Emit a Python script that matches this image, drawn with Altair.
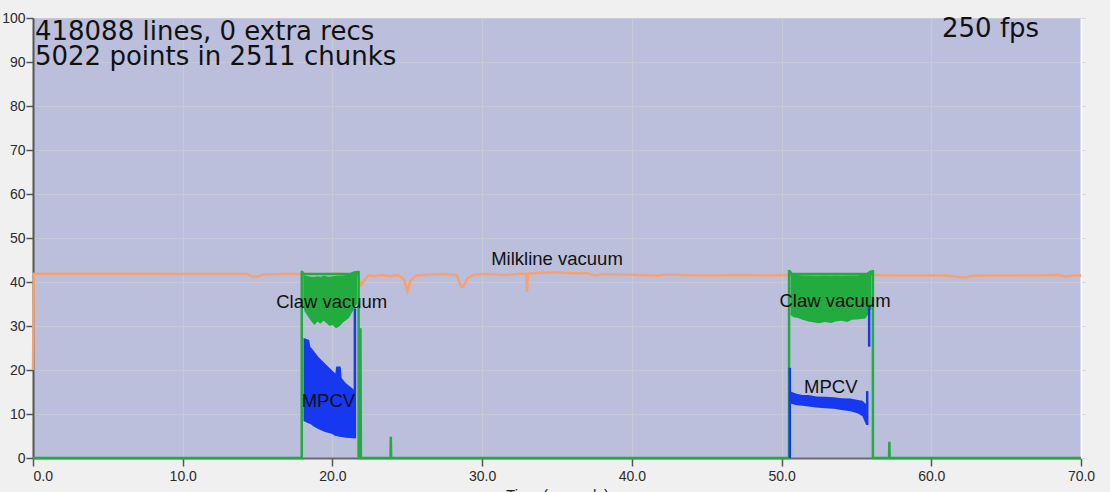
import altair as alt
import pandas as pd

# ---------------- data ----------------
x_ticks = [0, 10, 20, 30, 40, 50, 60, 70]
y_ticks = [0, 10, 20, 30, 40, 50, 60, 70, 80, 90, 100]

# Milkline vacuum (orange line)
milk_t = [0, 0.02, 0.05, 2, 6, 10, 14.3, 14.6, 15.0, 15.4, 17, 18.5, 19.5, 20.5, 21.3, 21.7, 21.9, 22.1,
          22.4, 22.8, 23.3, 23.8, 24.4, 24.8, 25.0, 25.2, 25.6, 26.5, 27.5, 28.3, 28.6, 28.75, 29.0, 29.5,
          30.5, 31.5, 32.6, 32.95, 33.0, 33.05, 34.0, 35.0, 36.0, 37.0, 37.6, 38.1, 39, 40.5, 41.8, 42.3,
          43.5, 45, 47, 49, 50.5, 53, 56, 57.5, 59, 61, 62.3, 62.7, 64, 66, 68.5, 69.0, 69.5, 70]
milk_v = [20, 27, 41.9, 41.9, 41.9, 41.8, 41.8, 41.3, 41.2, 41.7, 41.8, 41.8, 41.7, 41.9, 41.6, 41.0, 39.3, 40.2,
          41.5, 41.3, 41.6, 41.3, 41.6, 40.5, 37.8, 40.2, 41.5, 41.7, 41.8, 41.6, 39.0, 38.9, 40.8, 41.7,
          41.8, 41.6, 41.9, 41.9, 37.8, 41.9, 42.1, 42.2, 42.0, 42.0, 41.5, 41.8, 41.7, 41.6, 41.4, 41.7,
          41.6, 41.5, 41.6, 41.5, 41.6, 41.5, 41.6, 41.5, 41.5, 41.5, 41.0, 41.4, 41.5, 41.5, 41.6, 41.2, 41.5, 41.5]

# Claw vacuum (green line, baseline and edges)
claw_t = [0, 17.95, 17.95, 18.05, 21.65, 21.75, 21.75, 21.85, 21.87, 21.9, 23.88, 23.9, 23.92,
          50.5, 50.5, 50.6, 56.0, 56.1, 56.1, 57.18, 57.2, 57.22, 70]
claw_v = [0, 0, 42.5, 41.8, 41.8, 42.5, 0, 0, 29.5, 0, 0, 4.8, 0,
          0, 42.7, 41.8, 41.8, 42.7, 0, 0, 3.7, 0, 0]

# Claw vacuum envelope while milking (two episodes)
claw1_t = [18.05, 18.15, 18.4, 18.6, 18.8, 19.0, 19.2, 19.4, 19.6, 19.8, 20.0, 20.25, 20.5, 20.7, 20.9,
           21.1, 21.3, 21.5, 21.65]
claw1_lo = [34.5, 33.3, 32.0, 31.0, 30.2, 31.0, 30.5, 31.2, 30.7, 30.0, 30.2, 29.5, 30.0, 30.8, 31.3,
            31.8, 33.0, 34.4, 35.0]
claw1_hi = [42.2, 41.5, 41.3, 41.2, 41.2, 41.3, 41.2, 41.4, 41.3, 41.2, 41.3, 41.4, 41.5, 41.5, 41.6,
            41.8, 42.3, 42.5, 42.5]
claw2_t = [50.6, 50.8, 51.1, 51.4, 51.8, 52.2, 52.5, 52.9, 53.3, 53.6, 54.0, 54.4, 54.7, 55.0, 55.3,
           55.6, 55.85, 56.0]
claw2_lo = [32.5, 32.0, 31.8, 31.4, 31.0, 30.8, 30.6, 30.9, 30.7, 31.0, 31.2, 30.9, 31.4, 31.5, 31.6,
            31.7, 33.0, 34.0]
claw2_hi = [42.7, 41.7, 41.6, 41.5, 41.5, 41.4, 41.4, 41.5, 41.4, 41.5, 41.4, 41.5, 41.5, 41.5, 41.6,
            41.8, 42.5, 42.7]

# MPCV envelope (blue)
mpcv1_t = [18.07, 18.45, 18.52, 18.72, 19.05, 19.5, 19.95, 20.2, 20.25, 20.55, 20.62, 20.9, 21.35, 21.55]
mpcv1_hi = [27.3, 26.8, 25.3, 24.5, 23.0, 21.5, 20.0, 19.2, 20.8, 20.8, 18.1, 17.0, 15.8, 15.0]
mpcv1_lo = [8.4, 7.8, 7.8, 7.2, 6.6, 5.9, 5.5, 5.0, 5.0, 4.8, 4.8, 4.6, 4.5, 4.5]
mpcv2_t = [50.6, 51.0, 51.4, 51.8, 52.3, 52.9, 53.5, 54.0, 54.6, 55.1, 55.4, 55.6, 55.7]
mpcv2_hi = [15.1, 14.6, 14.3, 14.3, 14.0, 13.9, 13.8, 13.6, 13.5, 13.2, 13.0, 12.4, 12.2]
mpcv2_lo = [12.4, 12.0, 11.9, 11.7, 11.5, 11.3, 11.2, 10.9, 10.6, 10.1, 9.5, 7.9, 7.5]

# MPCV vertical spikes
spike_t = [21.5, 50.55, 55.72, 55.85]
spike_lo = [4.5, 0, 7.5, 25.3]
spike_hi = [34.0, 20.5, 15.2, 34.8]

# Series labels
lbl_text = ["Milkline vacuum", "Claw vacuum", "MPCV", "Claw vacuum", "MPCV"]
lbl_t = [35.0, 19.95, 19.73, 53.57, 53.29]
lbl_v = [43.9, 34.0, 11.65, 34.4, 14.7]

# Header annotations
hdr_text = ["418088 lines, 0 extra recs", "5022 points in 2511 chunks", "250 fps"]
hdr_t = [0.13, 0.13, 67.2]
hdr_v = [95.0, 89.3, 95.6]
hdr_side = ["left", "left", "right"]

# ---------------- frames ----------------
milk_df = pd.DataFrame({"t": milk_t, "v": milk_v, "i": range(len(milk_t))})
claw_df = pd.DataFrame({"t": claw_t, "v": claw_v, "i": range(len(claw_t))})
claw_band = pd.concat([
    pd.DataFrame({"t": claw1_t, "lo": claw1_lo, "hi": claw1_hi, "ep": 1}),
    pd.DataFrame({"t": claw2_t, "lo": claw2_lo, "hi": claw2_hi, "ep": 2}),
])
mpcv_band = pd.concat([
    pd.DataFrame({"t": mpcv1_t, "lo": mpcv1_lo, "hi": mpcv1_hi, "ep": 1}),
    pd.DataFrame({"t": mpcv2_t, "lo": mpcv2_lo, "hi": mpcv2_hi, "ep": 2}),
])
spike_df = pd.DataFrame({"t": spike_t, "lo": spike_lo, "hi": spike_hi})
lbl_df = pd.DataFrame({"text": lbl_text, "t": lbl_t, "v": lbl_v})
hdr_df = pd.DataFrame({"text": hdr_text, "t": hdr_t, "v": hdr_v, "side": hdr_side})

ORANGE = "#f5a272"
GREEN = "#22ab3e"
BLUE = "#1538f0"
GRID = "#c7c9d8"

xs = alt.Scale(domain=[0, 70], nice=False, zero=False)
ys = alt.Scale(domain=[0, 100], nice=False)

x_axis = alt.Axis(
    values=x_ticks, format=".1f", labelFont="Liberation Sans", labelFontSize=14,
    labelColor="#2b2b2b", labelFlush=False,
    labelAlign={"condition": {"test": "datum.value == 0", "value": "left"}, "value": "center"},
    labelPadding=3, tickSize=8, tickColor="#555555", tickWidth=1.5,
    domainColor="#6a6a6a", domainWidth=2, grid=True, gridColor=GRID, gridWidth=1,
    title="Time (seconds)", titleFont="Liberation Sans", titleFontSize=15,
    titleFontWeight="normal", titleColor="#222222", titleY=29, titleBaseline="top", zindex=0,
)
y_axis = alt.Axis(
    orient="left", values=y_ticks, labelFont="Liberation Sans", labelFontSize=14,
    labelColor="#2b2b2b", labelPadding=1, tickSize=7, tickColor="#555555", tickWidth=1.5,
    domainColor="#555555", domainWidth=2, grid=True, gridColor=GRID, gridWidth=1,
    title=None, zindex=0,
)
y_axis_right = alt.Axis(
    orient="right", values=y_ticks, labels=False, tickSize=4, tickColor="#d5d5d5",
    domainColor="#fafafa", domainWidth=2, grid=False, title=None, zindex=0,
)


def X():
    return alt.X("t:Q", scale=xs, axis=x_axis)


milk_line = alt.Chart(milk_df).mark_line(color=ORANGE, strokeWidth=2.5).encode(
    x=X(),
    y=alt.Y("v:Q", scale=ys, axis=y_axis),
    order="i:Q",
)

right_axis = alt.Chart(milk_df).mark_point(opacity=0).encode(
    x=X(),
    y=alt.Y("v:Q", scale=ys, axis=y_axis_right),
)

claw_area = alt.Chart(claw_band).mark_area(color=GREEN, opacity=1).encode(
    x=X(),
    y=alt.Y("lo:Q", scale=ys, axis=None),
    y2="hi:Q",
    detail="ep:N",
)

mpcv_area = alt.Chart(mpcv_band).mark_area(color=BLUE, opacity=1).encode(
    x=X(),
    y=alt.Y("lo:Q", scale=ys, axis=None),
    y2="hi:Q",
    detail="ep:N",
)

claw_line = alt.Chart(claw_df).mark_line(color=GREEN, strokeWidth=2.5).encode(
    x=X(),
    y=alt.Y("v:Q", scale=ys, axis=None),
    order="i:Q",
)

spikes = alt.Chart(spike_df).mark_rule(color=BLUE, strokeWidth=2.5).encode(
    x=X(),
    y=alt.Y("lo:Q", scale=ys, axis=None),
    y2="hi:Q",
)

labels = alt.Chart(lbl_df).mark_text(
    font="Liberation Sans", fontSize=18.5, color="#111111", align="center", baseline="alphabetic"
).encode(
    x=X(),
    y=alt.Y("v:Q", scale=ys, axis=None),
    text="text:N",
)

hdr_left = alt.Chart(hdr_df).transform_filter("datum.side == 'left'").mark_text(
    font="DejaVu Sans", fontSize=26, color="#111111", align="left", baseline="alphabetic"
).encode(
    x=X(),
    y=alt.Y("v:Q", scale=ys, axis=None),
    text="text:N",
)
hdr_right = alt.Chart(hdr_df).transform_filter("datum.side == 'right'").mark_text(
    font="DejaVu Sans", fontSize=26, color="#111111", align="right", baseline="alphabetic"
).encode(
    x=X(),
    y=alt.Y("v:Q", scale=ys, axis=None),
    text="text:N",
)

chart = alt.layer(
    milk_line, right_axis, claw_area, mpcv_area, claw_line, spikes, labels, hdr_left, hdr_right
).resolve_axis(y="independent").properties(
    width=1048,
    height=440,
    padding={"left": 33, "top": 18, "right": 29, "bottom": 34},
    autosize=alt.AutoSizeParams(type="none"),
    background="#f0f0f0",
).configure_view(fill="#bbbfdc", strokeWidth=0)

chart.save("out.html", embed_options={"renderer": "svg", "actions": False})
